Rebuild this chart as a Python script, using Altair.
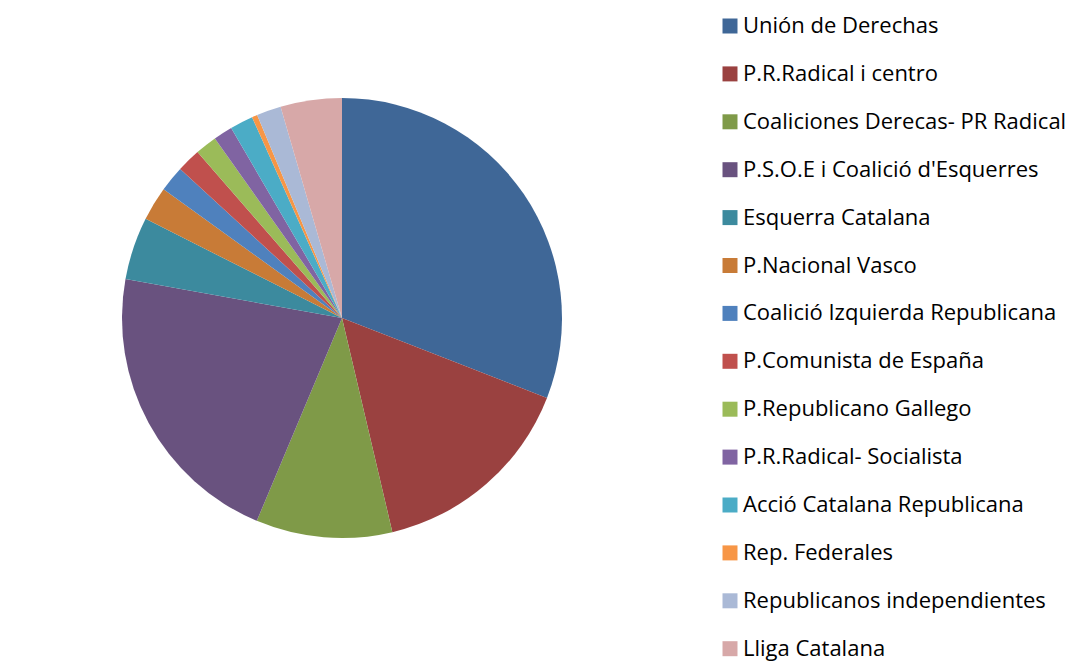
import altair as alt
import pandas as pd

partidos = [
    "Unión de Derechas",
    "P.R.Radical i centro",
    "Coaliciones Derecas- PR Radical",
    "P.S.O.E i Coalició d'Esquerres",
    "Esquerra Catalana",
    "P.Nacional Vasco",
    "Coalició Izquierda Republicana",
    "P.Comunista de España",
    "P.Republicano Gallego",
    "P.R.Radical- Socialista",
    "Acció Catalana Republicana",
    "Rep. Federales",
    "Republicanos independientes",
    "Lliga Catalana",
]
valores = [30.9, 15.4, 10.0, 21.5, 4.6, 2.5, 1.9, 1.75, 1.6, 1.4, 1.7, 0.4, 1.8, 4.5]
colores = [
    "#3F6797", "#9A4140", "#7F9A48", "#69527F", "#3C8A9E", "#C87B37", "#4F81BD",
    "#C0504D", "#9BBB59", "#8064A2", "#4BACC6", "#F79646", "#AAB9D6", "#D7A8A8",
]

df = pd.DataFrame({"partido": partidos, "valor": valores, "orden": list(range(len(partidos)))})

chart = (
    alt.Chart(df)
    .mark_arc(outerRadius=220)
    .encode(
        theta=alt.Theta("valor:Q", stack=True),
        order=alt.Order("orden:Q"),
        x=alt.value(334),
        y=alt.value(310),
        color=alt.Color(
            "partido:N",
            scale=alt.Scale(domain=partidos, range=colores),
            sort=partidos,
            legend=alt.Legend(
                title=None,
                orient="none",
                legendX=711,
                legendY=7,
                symbolType="square",
                symbolSize=225,
                symbolStrokeWidth=0,
                labelFont="Open Sans",
                labelFontSize=22,
                labelColor="#000000",
                labelLimit=400,
                labelOffset=2,
                rowPadding=25.9,
            ),
        ),
    )
    .properties(width=1070, height=658, padding=0)
    .configure_view(stroke=None)
)

chart.save("out.html", embed_options={"renderer": "svg", "actions": False})
